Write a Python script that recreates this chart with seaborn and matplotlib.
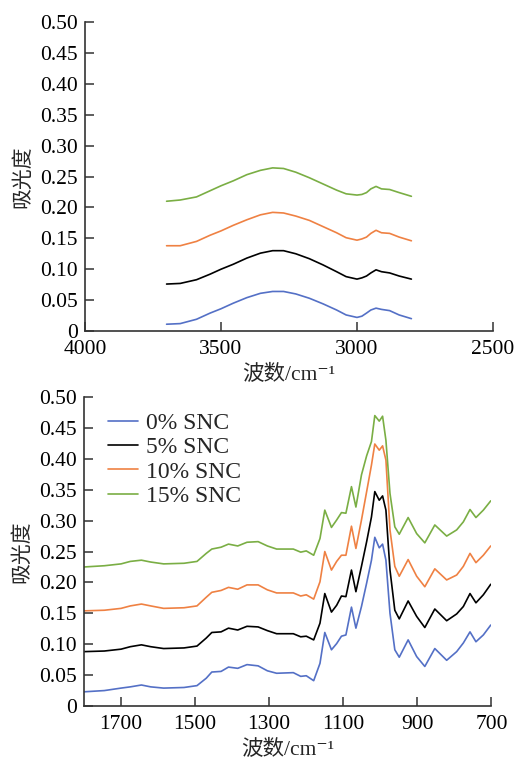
"""
红外光谱 (FTIR) 两段波数区间
"""

import matplotlib
matplotlib.use('Agg')
import matplotlib.pyplot as plt
import seaborn as sns
import pandas as pd

labels = ['0% SNC', '5% SNC', '10% SNC', '15% SNC']
colors = ['#5470c6', '#000000', '#ef8143', '#7aae44']

# 上图 3700-2800 cm-1
wn_top = [3700, 3650, 3590, 3540, 3500, 3455, 3405, 3355, 3310, 3270, 3225,
          3175, 3125, 3075, 3040, 3000, 2982, 2965, 2949, 2930, 2910, 2880,
          2845, 2800]
top_0 = [0.011, 0.012, 0.019, 0.029, 0.036, 0.045, 0.054, 0.061, 0.064, 0.064,
         0.060, 0.053, 0.044, 0.034, 0.026, 0.022, 0.024, 0.029, 0.034, 0.037,
         0.035, 0.033, 0.026, 0.020]
top_5 = [0.076, 0.077, 0.083, 0.092, 0.100, 0.108, 0.118, 0.126, 0.130, 0.130,
         0.125, 0.117, 0.107, 0.096, 0.088, 0.084, 0.086, 0.089, 0.094, 0.099,
         0.096, 0.094, 0.089, 0.084]
top_10 = [0.138, 0.138, 0.145, 0.155, 0.162, 0.171, 0.180, 0.188, 0.192, 0.191,
          0.186, 0.179, 0.169, 0.159, 0.151, 0.147, 0.149, 0.152, 0.158, 0.163,
          0.159, 0.158, 0.152, 0.146]
top_15 = [0.210, 0.212, 0.217, 0.227, 0.235, 0.243, 0.253, 0.260, 0.264, 0.263,
          0.257, 0.248, 0.238, 0.228, 0.222, 0.220, 0.221, 0.224, 0.230, 0.234,
          0.230, 0.229, 0.224, 0.218]

# 下图 1800-700 cm-1
wn_bot = [1800, 1745, 1700, 1675, 1645, 1620, 1585, 1530, 1495, 1470, 1455,
          1430, 1410, 1385, 1360, 1330, 1305, 1280, 1235, 1215, 1200, 1180,
          1163, 1150, 1132, 1118, 1105, 1093, 1078, 1066, 1051, 1037, 1024,
          1015, 1003, 994, 985, 974, 961, 949, 925, 902, 880, 853, 821, 794,
          776, 758, 742, 722, 702]
bot_0 = [0.023, 0.025, 0.029, 0.031, 0.034, 0.031, 0.029, 0.030, 0.033, 0.045,
         0.055, 0.056, 0.063, 0.061, 0.067, 0.065, 0.057, 0.053, 0.054, 0.048,
         0.049, 0.041,
         0.069, 0.119, 0.091, 0.101, 0.113, 0.115, 0.160, 0.126, 0.161, 0.199,
         0.236, 0.273, 0.256, 0.262, 0.236, 0.150, 0.091, 0.079, 0.107, 0.080,
         0.064, 0.093, 0.074, 0.088, 0.102, 0.120, 0.104, 0.115, 0.131]
bot_5 = [0.088, 0.089, 0.092, 0.096, 0.099, 0.096, 0.093, 0.094, 0.097, 0.110,
         0.119, 0.120, 0.126, 0.123, 0.129, 0.128, 0.122, 0.117, 0.117, 0.112,
         0.113, 0.107,
         0.134, 0.182, 0.152, 0.163, 0.178, 0.177, 0.220, 0.185, 0.226, 0.266,
         0.306, 0.347, 0.333, 0.340, 0.317, 0.220, 0.155, 0.141, 0.170, 0.145,
         0.127, 0.157, 0.138, 0.149, 0.161, 0.182, 0.167, 0.180, 0.197]
bot_10 = [0.154, 0.155, 0.158, 0.162, 0.165, 0.162, 0.158, 0.159, 0.162, 0.176,
          0.184, 0.187, 0.192, 0.189, 0.196, 0.196, 0.188, 0.183, 0.183, 0.178,
          0.180, 0.173,
          0.201, 0.250, 0.220, 0.234, 0.244, 0.244, 0.291, 0.255, 0.301, 0.347,
          0.390, 0.424, 0.414, 0.421, 0.398, 0.285, 0.226, 0.210, 0.237, 0.210,
          0.193, 0.222, 0.204, 0.212, 0.226, 0.247, 0.232, 0.244, 0.259]
bot_15 = [0.225, 0.227, 0.230, 0.234, 0.236, 0.233, 0.230, 0.231, 0.234, 0.247,
          0.254, 0.257, 0.262, 0.259, 0.265, 0.266, 0.259, 0.254, 0.254, 0.249,
          0.251, 0.244,
          0.271, 0.317, 0.289, 0.301, 0.313, 0.312, 0.355, 0.322, 0.374, 0.405,
          0.428, 0.470, 0.461, 0.469, 0.430, 0.344, 0.290, 0.278, 0.305, 0.279,
          0.264, 0.293, 0.275, 0.285, 0.298, 0.318, 0.305, 0.317, 0.332]

yticks = [0, 0.05, 0.10, 0.15, 0.20, 0.25, 0.30, 0.35, 0.40, 0.45, 0.50]
ytick_labels = ['0', '0.05', '0.10', '0.15', '0.20', '0.25', '0.30', '0.35',
                '0.40', '0.45', '0.50']
xticks_top = [4000, 3500, 3000, 2500]
xticks_bot = [1700, 1500, 1300, 1100, 900, 700]


def to_long(wn, series):
    frames = []
    for lab, vals in zip(labels, series):
        frames.append(pd.DataFrame({'wn': wn, 'abs': vals, 'sample': lab}))
    return pd.concat(frames, ignore_index=True)


df_top = to_long(wn_top, [top_0, top_5, top_10, top_15])
df_bot = to_long(wn_bot, [bot_0, bot_5, bot_10, bot_15])

sns.set_theme(style='ticks')
plt.rcParams['font.family'] = ['Liberation Serif', 'DejaVu Serif',
                               'Noto Sans CJK SC']
plt.rcParams['axes.edgecolor'] = '#333333'

fig = plt.figure(figsize=(5.16, 7.65), dpi=100)
ax1 = fig.add_axes([0.1647, 0.5673, 0.7907, 0.4039])
ax2 = fig.add_axes([0.1628, 0.0771, 0.7897, 0.4039])

palette = dict(zip(labels, colors))

sns.lineplot(data=df_top, x='wn', y='abs', hue='sample', hue_order=labels,
             palette=palette, estimator=None, sort=False, linewidth=1.2,
             legend=False, ax=ax1)
sns.lineplot(data=df_bot, x='wn', y='abs', hue='sample', hue_order=labels,
             palette=palette, estimator=None, sort=False, linewidth=1.2,
             ax=ax2)

for ax, xt in [(ax1, xticks_top), (ax2, xticks_bot)]:
    sns.despine(ax=ax)
    ax.spines['left'].set_linewidth(1.2)
    ax.spines['bottom'].set_linewidth(1.2)
    ax.set_ylim(0, 0.5)
    ax.set_yticks(yticks)
    ax.set_yticklabels(ytick_labels)
    ax.set_xticks(xt)
    ax.tick_params(direction='in', length=6.5, width=1.1, labelsize=15.5,
                   color='#333333', labelcolor='black', pad=5)
    ax.tick_params(axis='x', pad=6.5)
    ax.set_ylabel('吸光度', fontsize=15, labelpad=5)
    ax.set_xlabel('波数/cm⁻¹', fontsize=15.5, labelpad=4)

ax1.set_xlim(4000, 2500)
ax2.set_xlim(1800, 700)

ax2.legend(loc='upper left', frameon=False, fontsize=17, handlelength=1.3,
           handletextpad=0.35, labelspacing=0.12, borderaxespad=0.25,
           bbox_to_anchor=(0.02, 1.0))

fig.savefig('out.png', dpi=100)
